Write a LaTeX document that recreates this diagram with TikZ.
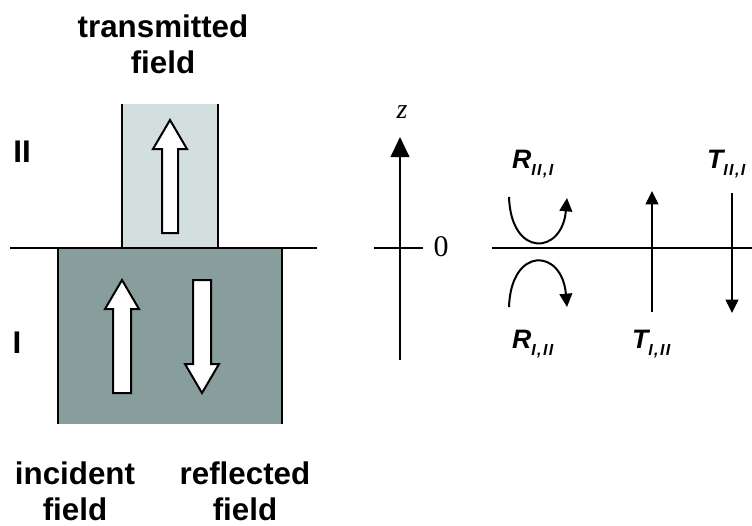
\documentclass[tikz,border=0pt]{standalone}
\usepackage{fontspec}
\setmainfont{Liberation Sans}
\newfontfamily\timesfont{Liberation Serif}
\usetikzlibrary{arrows.meta}

\definecolor{regionone}{RGB}{135,158,157}
\definecolor{regiontwo}{RGB}{211,222,222}

% coefficiente con pedice
\newcommand{\coefsub}[2]{#1\raisebox{-5.5pt}{\fontsize{12}{12}\selectfont\addfontfeatures{LetterSpace=9}#2}}

\tikzset{
  biglabel/.style={font=\fontsize{23.5}{27}\selectfont\bfseries, align=center},
  coeflabel/.style={font=\fontsize{20}{21}\selectfont\bfseries\itshape, anchor=base west, inner sep=0pt},
  hollow/.style={draw=black, fill=white, line width=1.5pt, line join=miter},
  smallarrow/.style={-{Triangle[length=10pt,width=9.5pt]}, line width=1.5pt},
}

\begin{document}
\begin{tikzpicture}[x=0.75pt, y=-0.75pt, line width=1.5pt]
    \useasboundingbox (0,0) rectangle (752,525);

    % 1. Regioni I e II (solo i lati verticali sono bordati)
    \fill[regionone] (58,248) rectangle (282,424);
    \fill[regiontwo] (122,104) rectangle (218,248);
    \draw (58,248) -- (58,424);
    \draw (282,248) -- (282,424);
    \draw (122,104) -- (122,248);
    \draw (218,104) -- (218,248);

    % 2. Interfaccia
    \draw (10,248) -- (317,248);

    % 3. Frecce vuote: trasmessa, incidente, riflessa
    \draw[hollow] (162,233) -- (162,149) -- (153,149) -- (170,120) -- (187,149) -- (178,149) -- (178,233) -- cycle;
    \draw[hollow] (113,393) -- (113,309) -- (105,309) -- (122,280) -- (139,309) -- (131,309) -- (131,393) -- cycle;
    \draw[hollow] (193,280) -- (193,364) -- (185,364) -- (202,393) -- (219,364) -- (211,364) -- (211,280) -- cycle;

    % 4. Etichette
    \node[biglabel] (transmitted) at (163,44) {transmitted\\field};
    \node[biglabel] (incident) at (75,491) {incident\\field};
    \node[biglabel] (reflected) at (245,491) {reflected\\field};
    \node[biglabel] (regII) at (22,152) {II};
    \node[biglabel] (regI) at (17,343) {I};

    % 5. Asse z con lo zero
    \coordinate (zbot) at (400,360);
    \coordinate (ztop) at (400,137);
    \draw[-{Triangle[length=15pt,width=14pt]}] (zbot) -- (ztop);
    \node[font=\timesfont\itshape\fontsize{21}{24}\selectfont, inner sep=0pt] (zlabel) at (402,112) {z};
    \coordinate (tickL) at (374,248);
    \coordinate (tickR) at (423,248);
    \draw (tickL) -- (tickR);
    \node[font=\timesfont\fontsize{22.5}{24}\selectfont, inner sep=0pt] (zero) at (441,247) {0};

    % 6. Interfaccia a destra
    \coordinate (ifL) at (492,248);
    \coordinate (ifR) at (752,248);
    \draw (ifL) -- (ifR);

    % 7. Riflessioni (frecce curve)
    \coordinate (rtwoA) at (509,197);
    \coordinate (rtwoB) at (567,198);
    \draw[smallarrow] (rtwoA) .. controls (511,258) and (562,255) .. (rtwoB);
    \coordinate (roneA) at (509,307);
    \coordinate (roneB) at (567,307);
    \draw[smallarrow] (roneA) .. controls (511,246) and (562,248) .. (roneB);

    % 8. Trasmissioni (frecce dritte)
    \coordinate (tonebot) at (652,312);
    \coordinate (tonetop) at (652,191);
    \draw[smallarrow] (tonebot) -- (tonetop);
    \coordinate (ttwotop) at (732,193);
    \coordinate (ttwobot) at (732,313);
    \draw[smallarrow] (ttwotop) -- (ttwobot);

    % 9. Coefficienti
    \node[coeflabel] (Rtwoone) at (511,168) {\coefsub{R}{II,I}};
    \node[coeflabel] (Ronetwo) at (511,348) {\coefsub{R}{I,II}};
    \node[coeflabel] (Tonetwo) at (631,348) {\coefsub{T}{I,II}};
    \node[coeflabel] (Ttwoone) at (706,168) {\coefsub{T}{II,I}};
\end{tikzpicture}
\end{document}
